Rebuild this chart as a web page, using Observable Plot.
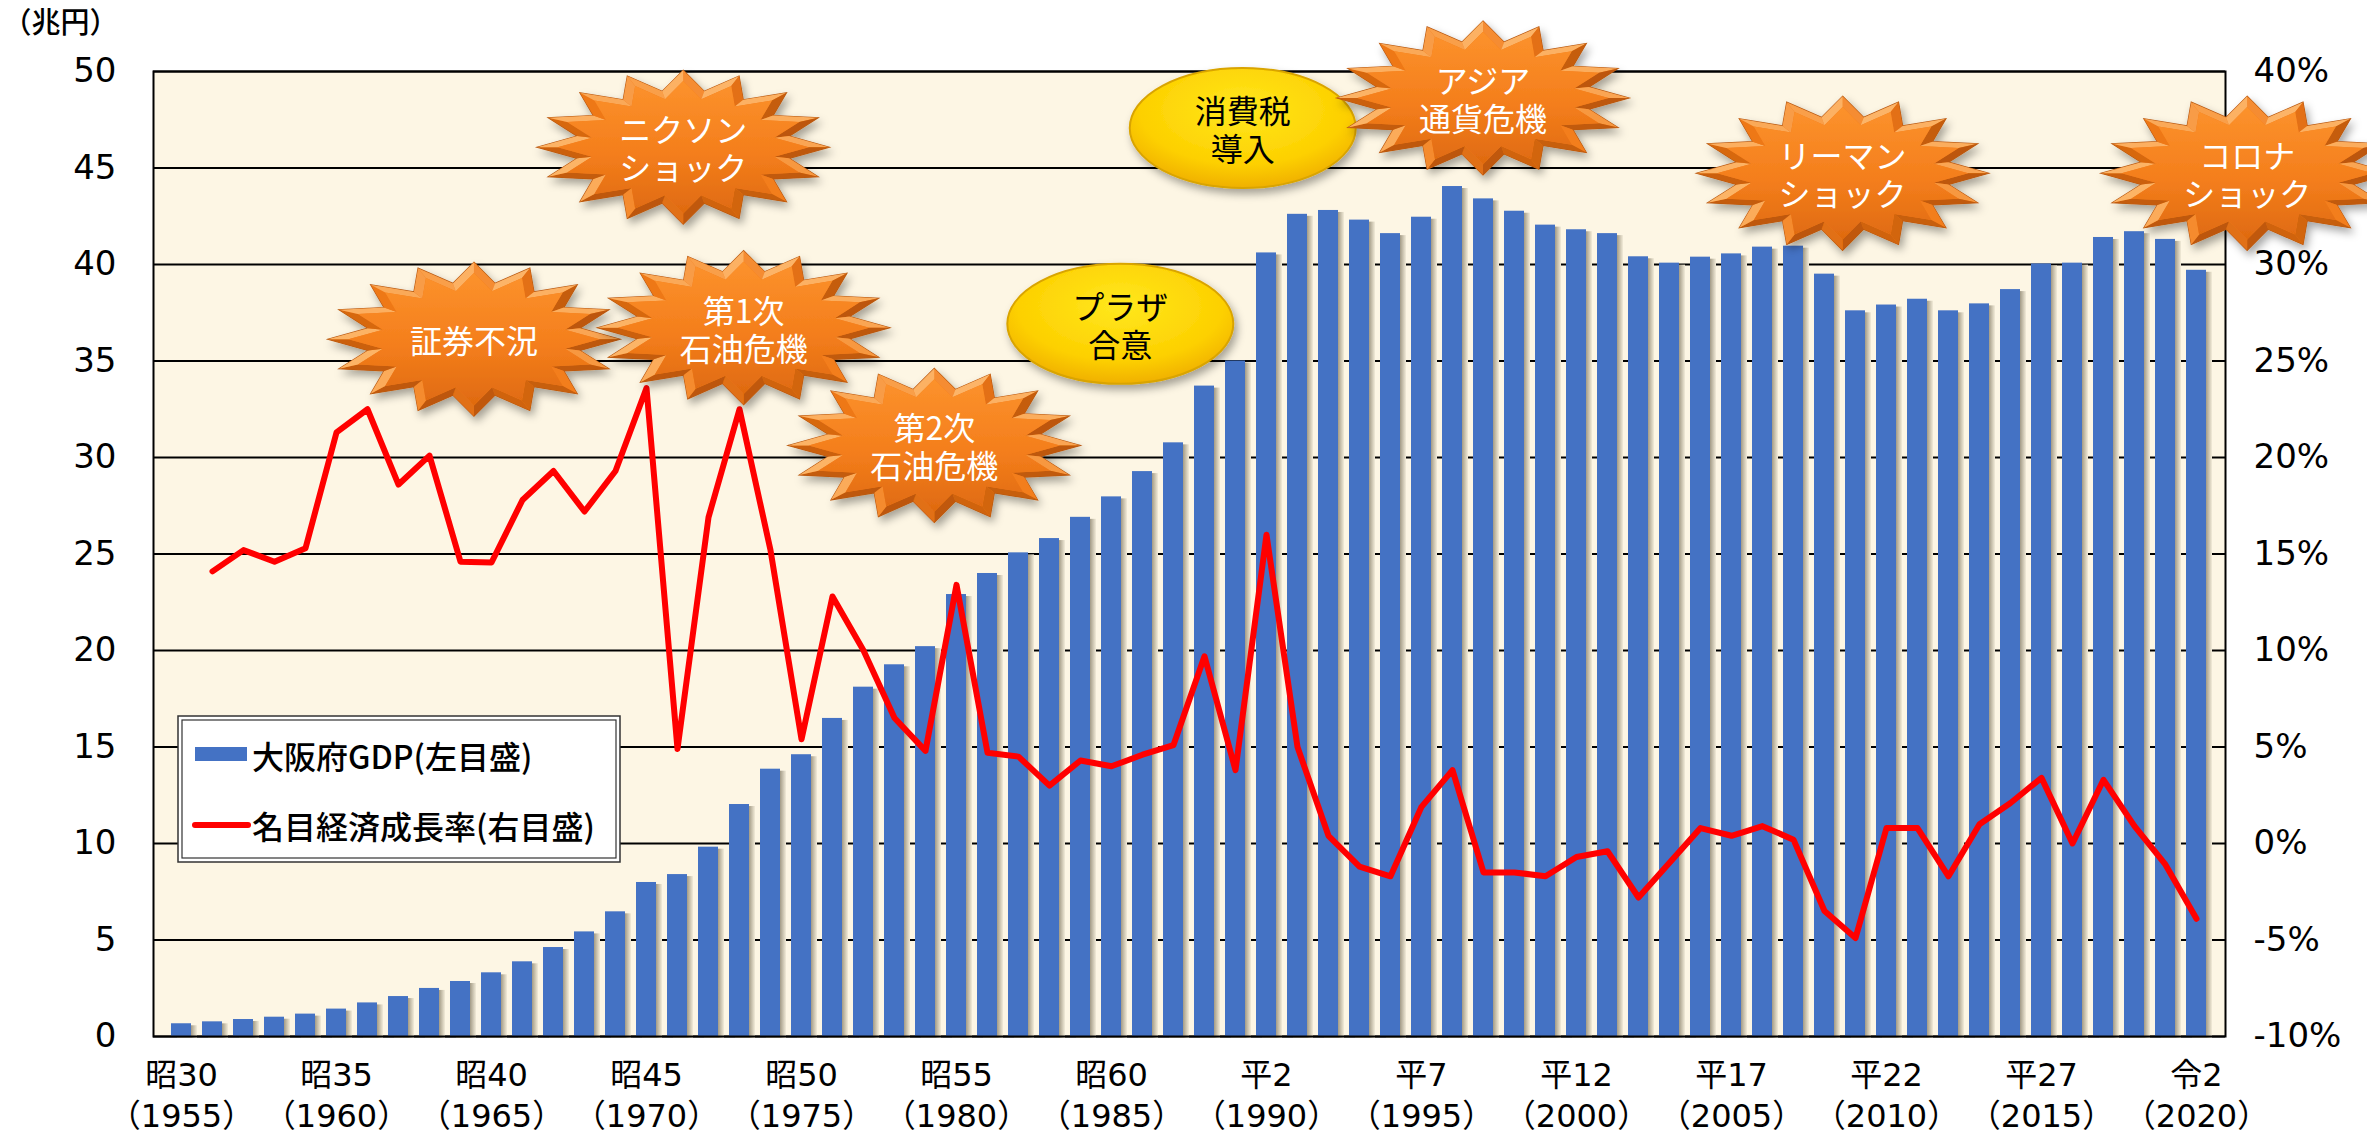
<!DOCTYPE html>
<html><head><meta charset="utf-8">
<script src="https://cdn.jsdelivr.net/npm/d3@7"></script>
<script src="https://cdn.jsdelivr.net/npm/@observablehq/plot@0.6"></script>
<style>
html,body{margin:0;padding:0;background:#fff;overflow:hidden;}
</style></head><body><div id="chart"></div>
<script>
// ---- data ----
const years = d3.range(1955, 2021);
const gdp = [0.66,0.76,0.88,1.0,1.16, 1.42,1.74,2.07,2.49,2.85, 3.3,3.87,4.61,5.42,6.46,
  7.98,8.39,9.81,12.02,13.85, 14.6,16.48,18.1,19.26,20.2, 22.9,23.99,25.06,25.8,26.9,
  27.96,29.27,30.76,33.7,35.0, 40.6,42.6,42.8,42.3,41.6, 42.45,44.04,43.4,42.76,42.04,
  41.8,41.6,40.4,40.07,40.38, 40.55,40.9,40.95,39.5,37.6, 37.9,38.2,37.6,37.96,38.7,
  40.03,40.07,41.4,41.7,41.3, 39.7];
const growthYears = d3.range(1956, 2021);
const growth = [14.1,15.2,14.6,15.3,21.3,22.5,18.6,20.1,14.6,14.56,
  17.8,19.3,17.2,19.3,23.6,4.9,16.9,22.5,15.2,5.4,
  12.8,10.0,6.5,4.8,13.4,4.7,4.5,3.0,4.3,4.0,
  4.6,5.1,9.7,3.8,16.0,5.0,0.4,-1.2,-1.7,1.9,
  3.8,-1.5,-1.5,-1.7,-0.7,-0.4,-2.8,-1.0,0.8,0.4,
  0.9,0.2,-3.5,-4.9,0.8,0.8,-1.7,1.0,2.1,3.4,
  0.0,3.3,0.9,-1.1,-3.9];
const xTickYears = [1955,1960,1965,1970,1975,1980,1985,1990,1995,2000,2005,2010,2015,2020];
const xTickEras = ["昭30","昭35","昭40","昭45","昭50","昭55","昭60","平2","平7","平12","平17","平22","平27","令2"];
const leftTicks = [0,5,10,15,20,25,30,35,40,45,50];
const rightTickLabels = ["-10%","-5%","0%","5%","10%","15%","20%","25%","30%","35%","40%"];
const rightOffset = 10; // right axis value + 10 = left-scale value
const unitLabel = "（兆円）";
const seriesNames = ["大阪府GDP(左目盛)", "名目経済成長率(右目盛)"];
// annotations: position in (fractional year, left-axis value)
const eventLabels = [["証券不況"],["ニクソン","ショック"],["第1次","石油危機"],["第2次","石油危機"],
  ["プラザ","合意"],["消費税","導入"],["アジア","通貨危機"],["リーマン","ショック"],["コロナ","ショック"]];
const eventKinds = ["burst","burst","burst","burst","oval","oval","burst","burst","burst"];
const eventYears = [1964.45,1971.2,1973.15,1979.3,1985.3,1989.25,1997.0,2008.6,2021.65];
const eventValues = [36.1,46.05,36.7,30.6,36.9,47.05,48.6,44.7,44.7];

// ---- chart ----
const FONT = "'Noto Sans CJK JP','Noto Sans',sans-serif";
const AXISFONT = "'DejaVu Sans','Noto Sans CJK JP',sans-serif";
const barData = years.map((y,i)=>({year:y, v:gdp[i]}));
const lineData = growthYears.map((y,i)=>({year:y, v:growth[i]+rightOffset}));

const plot = Plot.plot({
  width: 2367, height: 1136,
  marginLeft: 153, marginRight: 142, marginTop: 71, marginBottom: 100,
  style: {fontFamily: FONT, color:"#000", background:"#fff", overflow:"hidden"},
  x: {type:"band", domain: years, paddingInner: 0.347, paddingOuter: 0.19},
  y: {domain:[0,50]},
  marks: [
    Plot.frame({fill:"#FDF6E4", stroke:null}),
    Plot.ruleY(leftTicks, {stroke:"#000", strokeWidth:2}),
    Plot.barY(barData, {x:"year", y:"v", fill:"url(#shadowGrad)", dx:6, dy:2}),
    Plot.barY(barData, {x:"year", y:"v", fill:"#4472C4"}),
    Plot.line(lineData, {x:"year", y:"v", stroke:"#FF0000", strokeWidth:6, strokeLinejoin:"round", strokeLinecap:"round"}),
    Plot.frame({stroke:"#000", strokeWidth:2}),
    Plot.axisY({ticks:leftTicks, tickSize:0, tickPadding:37, fontSize:34, fontFamily:AXISFONT, label:null}),
    Plot.axisY({anchor:"right", ticks:leftTicks, tickSize:0, tickPadding:28, fontSize:34, fontFamily:AXISFONT, label:null,
      tickFormat: d => rightTickLabels[leftTicks.indexOf(d)]}),
    Plot.axisX({ticks:xTickYears, tickSize:0, tickPadding:20, fontSize:32, fontFamily:AXISFONT, lineHeight:1.28, label:null,
      tickFormat: d => xTickEras[xTickYears.indexOf(d)] + "\n（" + d + "）"}),
    Plot.text([unitLabel], {frameAnchor:"top-left", dx:-151, dy:-48, textAnchor:"start", fontSize:29, fontWeight:500, lineAnchor:"middle"})
  ]
});
document.getElementById("chart").appendChild(plot);

// ---- defs ----
const svg = d3.select(plot);
const defs = svg.insert("defs", ":first-child");
const sg = defs.append("linearGradient").attr("id","shadowGrad").attr("x1","0").attr("x2","1").attr("y1","0").attr("y2","0");
sg.append("stop").attr("offset","0%").attr("stop-color","#9f9884");
sg.append("stop").attr("offset","72%").attr("stop-color","#a8a08b");
sg.append("stop").attr("offset","100%").attr("stop-color","#f3ecd9");
const bg = defs.append("linearGradient").attr("id","burstGrad").attr("x1","0").attr("x2","0").attr("y1","0").attr("y2","1");
bg.append("stop").attr("offset","0%").attr("stop-color","#FC922C");
bg.append("stop").attr("offset","55%").attr("stop-color","#F47E1C");
bg.append("stop").attr("offset","100%").attr("stop-color","#DF6A10");
const og = defs.append("radialGradient").attr("id","ovalGrad").attr("cx","50%").attr("cy","35%").attr("r","65%");
og.append("stop").attr("offset","0%").attr("stop-color","#FFE81E");
og.append("stop").attr("offset","70%").attr("stop-color","#FDD000");
og.append("stop").attr("offset","100%").attr("stop-color","#F0B000");
const f = defs.append("filter").attr("id","dropShadow").attr("x","-20%").attr("y","-20%").attr("width","140%").attr("height","150%");
f.append("feDropShadow").attr("dx",3).attr("dy",5).attr("stdDeviation",4).attr("flood-color","#000").attr("flood-opacity",0.35);

// ---- annotations ----
const xs = plot.scale("x"), ys = plot.scale("y");
const x0 = xs.apply(1955) + xs.bandwidth/2;
const step = xs.step;
const px = fy => x0 + (fy - 1955) * step;
const light = [-0.45, -0.9];
const base = "#F27A18";
const ann = svg.append("g");
eventLabels.forEach((lines, i) => {
  const cx = px(eventYears[i]), cy = ys.apply(eventValues[i]);
  const g = ann.append("g").attr("filter","url(#dropShadow)");
  if (eventKinds[i] === "burst") {
    const rx = 146, ry = 77, n = 16, inner = 0.74;
    const P = d3.range(2*n).map(k => {
      const a = -Math.PI/2 + k*Math.PI/n, r = k%2===0 ? 1 : inner;
      return [cx + rx*r*Math.cos(a), cy + ry*r*Math.sin(a)];
    });
    g.append("polygon").attr("points", P.map(p=>p.join(",")).join(" ")).attr("fill", base)
      .attr("stroke","#B85A14").attr("stroke-width",1.2);
    const Q = P.map(p => [cx + (p[0]-cx)*0.86, cy + (p[1]-cy)*0.86]);
    for (let k = 0; k < 2*n; k++) {
      const k2 = (k+1) % (2*n);
      const ex = P[k2][0]-P[k][0], ey = P[k2][1]-P[k][1];
      const len = Math.hypot(ex, ey);
      let nx = ey/len, ny = -ex/len;
      const mx = (P[k][0]+P[k2][0])/2 - cx, my = (P[k][1]+P[k2][1])/2 - cy;
      if (nx*mx + ny*my < 0) { nx = -nx; ny = -ny; }
      const t = nx*light[0] + ny*light[1];
      const col = t > 0 ? d3.interpolateRgb(base, "#FFC27A")(t*0.8) : d3.interpolateRgb(base, "#9A4000")(-t*0.6);
      g.append("polygon").attr("points", [P[k],P[k2],Q[k2],Q[k]].map(p=>p.join(",")).join(" ")).attr("fill", col);
    }
    g.append("polygon").attr("points", Q.map(p=>p.join(",")).join(" ")).attr("fill","url(#burstGrad)");
  } else {
    g.append("ellipse").attr("cx",cx).attr("cy",cy).attr("rx",113).attr("ry",60)
      .attr("fill","url(#ovalGrad)").attr("stroke","#D9A400").attr("stroke-width",2);
  }
  const color = eventKinds[i] === "burst" ? "#fff" : "#000";
  const lh = 38;
  lines.forEach((t, j) => {
    ann.append("text").attr("x", cx).attr("y", cy + (j - (lines.length-1)/2)*lh)
      .attr("text-anchor","middle").attr("dominant-baseline","central")
      .attr("font-family", FONT).attr("font-size", 32).attr("fill", color).text(t);
  });
});

// ---- legend ----
const lx = 178, ly = 716, lw = 442, lh2 = 146;
const lg = svg.append("g").attr("text-anchor","start");
lg.append("rect").attr("x",lx).attr("y",ly).attr("width",lw).attr("height",lh2).attr("fill","#fff").attr("stroke","#333").attr("stroke-width",1.5);
lg.append("rect").attr("x",lx+4).attr("y",ly+4).attr("width",lw-8).attr("height",lh2-8).attr("fill","none").attr("stroke","#333").attr("stroke-width",1.2);
lg.append("rect").attr("x",lx+17).attr("y",ly+31).attr("width",52).attr("height",14).attr("fill","#4472C4");
lg.append("text").attr("x",lx+74).attr("y",ly+39).attr("text-anchor","start").attr("dominant-baseline","central").attr("font-family",FONT).attr("font-size",32).attr("font-weight",500).attr("fill","#000").text(seriesNames[0]);
lg.append("line").attr("x1",lx+17).attr("x2",lx+70).attr("y1",ly+109).attr("y2",ly+109).attr("stroke","#FF0000").attr("stroke-width",6).attr("stroke-linecap","round");
lg.append("text").attr("x",lx+74).attr("y",ly+109).attr("text-anchor","start").attr("dominant-baseline","central").attr("font-family",FONT).attr("font-size",32).attr("font-weight",500).attr("fill","#000").text(seriesNames[1]);
</script></body></html>
